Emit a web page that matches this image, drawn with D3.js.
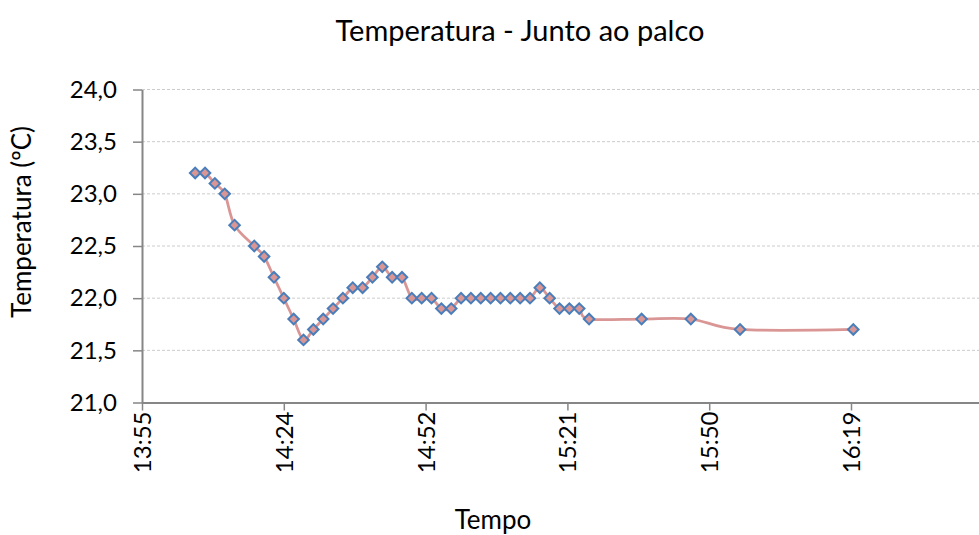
<!DOCTYPE html>
<html>
<head>
<meta charset="utf-8">
<script src="https://cdn.jsdelivr.net/npm/d3@7"></script>
<style>
  html, body { margin: 0; padding: 0; background: #fff; }
  svg { display: block; font-family: Lato, "Open Sans", sans-serif; }
</style>
</head>
<body>
<svg id="chart" width="979" height="535"></svg>
<script>
// Readings: time of day and temperature (ºC)
const times = [
  "14:06","14:08","14:10","14:12","14:14","14:18","14:20","14:22","14:24","14:26",
  "14:28","14:30","14:32","14:34","14:36","14:38","14:40","14:42","14:44","14:46",
  "14:48","14:50","14:52","14:54","14:56","14:58","15:00","15:02","15:04","15:06",
  "15:08","15:10","15:12","15:14","15:16","15:18","15:20","15:22","15:24","15:26",
  "15:36:40","15:46:40","15:56:40","16:19:40"
];
const temps = [
  23.2, 23.2, 23.1, 23.0, 22.7, 22.5, 22.4, 22.2, 22.0, 21.8,
  21.6, 21.7, 21.8, 21.9, 22.0, 22.1, 22.1, 22.2, 22.3, 22.2,
  22.2, 22.0, 22.0, 22.0, 21.9, 21.9, 22.0, 22.0, 22.0, 22.0,
  22.0, 22.0, 22.0, 22.0, 22.1, 22.0, 21.9, 21.9, 21.9, 21.8,
  21.8, 21.8, 21.7, 21.7
];
const yTicks = [21.0, 21.5, 22.0, 22.5, 23.0, 23.5, 24.0];
const xTickLabels = ["13:55", "14:24", "14:52", "15:21", "15:50", "16:19"];

const chartTitle = "Temperatura - Junto ao palco";
const yTitle = "Temperatura (ºC)";
const xTitle = "Tempo";

// minutes since midnight
function toMinutes(s) {
  const p = s.split(":").map(Number);
  return p[0] * 60 + p[1] + (p[2] || 0) / 60;
}
const data = times.map((t, i) => ({ t: toMinutes(t), v: temps[i] }));

const svg = d3.select("#chart");
const W = 979, H = 535;
const plotLeft = 142, plotTop = 89.5, plotBottom = 402.5;

// time axis: starts at 0,58 day, major unit 0,02 day (28,8 min)
const tStart = 0.58 * 1440, tStep = 0.02 * 1440;
const x = d3.scaleLinear().domain([tStart, tStart + 6 * tStep]).range([plotLeft, plotLeft + 6 * 141.8]);
const y = d3.scaleLinear().domain([21, 24]).range([plotBottom, plotTop]);
const xTickValues = xTickLabels.map((_, i) => tStart + i * tStep);

const axisColor = "#868686";

// horizontal gridlines
svg.append("g")
  .selectAll("line")
  .data(yTicks.filter(d => d > 21))
  .join("line")
  .attr("x1", plotLeft).attr("x2", W)
  .attr("y1", d => y(d)).attr("y2", d => y(d))
  .attr("stroke", "#cccccc")
  .attr("stroke-width", 1)
  .attr("stroke-dasharray", "3,2");

// y axis
const gy = svg.append("g")
  .attr("transform", `translate(${plotLeft},0)`)
  .call(d3.axisLeft(y).tickValues(yTicks).tickSize(9).tickSizeOuter(0)
    .tickFormat(d => d.toFixed(1).replace(".", ",")));
gy.select(".domain").attr("stroke", axisColor).attr("stroke-width", 2);
gy.selectAll(".tick line").attr("stroke", axisColor).attr("stroke-width", 1.5);
gy.selectAll(".tick text")
  .attr("x", -25)
  .attr("fill", "#000")
  .attr("font-size", 24)
  .attr("font-family", "Lato, sans-serif");

// x axis
const gx = svg.append("g")
  .attr("transform", `translate(0,${plotBottom})`)
  .call(d3.axisBottom(x).tickValues(xTickValues).tickSize(8).tickSizeOuter(0)
    .tickFormat((d, i) => xTickLabels[i]));
gx.select(".domain").attr("stroke", axisColor).attr("stroke-width", 2);
gx.selectAll(".tick line").attr("stroke", axisColor).attr("stroke-width", 1.5);
gx.selectAll(".tick text")
  .attr("fill", "#000")
  .attr("font-size", 24)
  .attr("font-family", "Lato, sans-serif")
  .attr("transform", "rotate(-90)")
  .attr("text-anchor", "end")
  .attr("dy", "0.35em")
  .attr("x", -9)
  .attr("y", 0);

// smoothed line
const line = d3.line()
  .x(d => x(d.t))
  .y(d => y(d.v))
  .curve(d3.curveCardinal.tension(0));

svg.append("path")
  .datum(data)
  .attr("d", line)
  .attr("fill", "none")
  .attr("stroke", "#d99694")
  .attr("stroke-width", 2.75);

// diamond markers
const diamond = d3.symbol().type(d3.symbolSquare).size(56);
svg.append("g")
  .selectAll("path")
  .data(data)
  .join("path")
  .attr("d", diamond)
  .attr("transform", d => `translate(${x(d.t)},${y(d.v)}) rotate(45)`)
  .attr("fill", "#d99694")
  .attr("stroke", "#4a7ebb")
  .attr("stroke-width", 2);

// titles
svg.append("text")
  .attr("x", 520).attr("y", 41)
  .attr("text-anchor", "middle")
  .attr("font-size", 29)
  .attr("fill", "#000")
  .text(chartTitle);

svg.append("text")
  .attr("transform", `translate(31,222) rotate(-90)`)
  .attr("text-anchor", "middle")
  .attr("font-size", 26)
  .attr("fill", "#000")
  .text(yTitle);

svg.append("text")
  .attr("x", 493).attr("y", 529)
  .attr("text-anchor", "middle")
  .attr("font-size", 26)
  .attr("fill", "#000")
  .text(xTitle);
</script>
</body>
</html>
